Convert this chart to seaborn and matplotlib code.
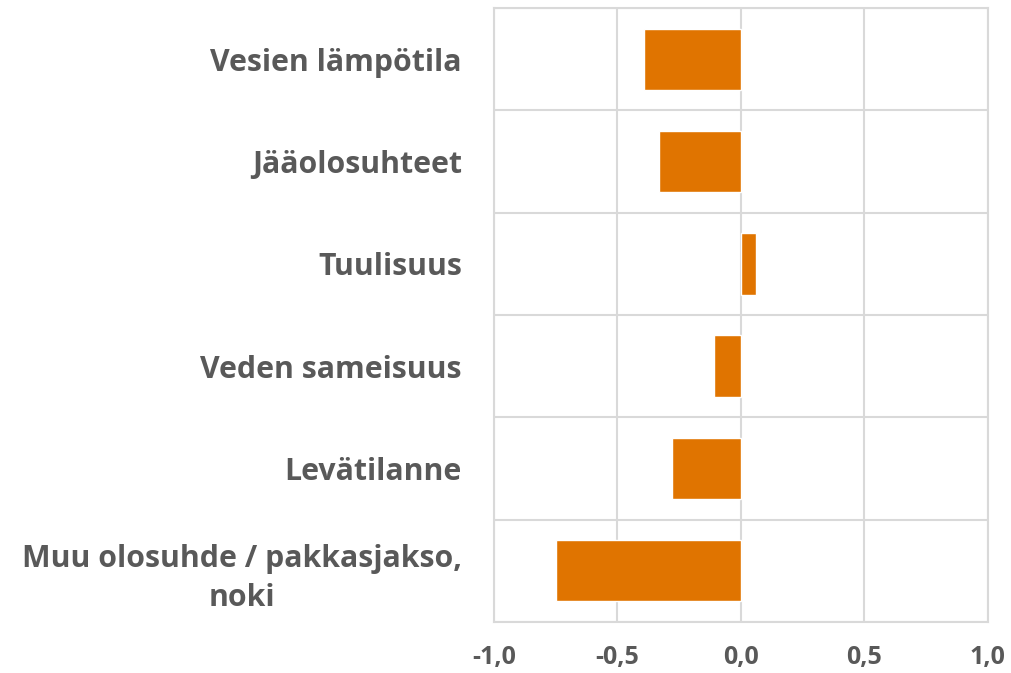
import seaborn as sns
import matplotlib.pyplot as plt
import pandas as pd
import numpy as np

# Data
categories = ['Vesien lämpötila', 'Jääolosuhteet', 'Tuulisuus', 'Veden sameisuus',
              'Levätilanne', 'Muu olosuhde / pakkasjakso,\nnoki']
values = [-0.39, -0.33, 0.061, -0.108, -0.278, -0.75]
xticks = [-1.0, -0.5, 0.0, 0.5, 1.0]
xtick_labels = ['-1,0', '-0,5', '0,0', '0,5', '1,0']

df = pd.DataFrame({'Kategoria': categories, 'Arvo': values})

sns.set_style('white')
plt.rcParams['font.family'] = ['Open Sans', 'DejaVu Sans']

grid_color = '#d9d9d9'
text_color = '#595959'

fig = plt.figure(figsize=(10.12, 6.73), dpi=100)
ax = fig.add_axes([0.488, 0.076, 0.488, 0.912])

sns.barplot(data=df, x='Arvo', y='Kategoria', orient='h', color='#e07400',
            saturation=1, width=0.6, ax=ax, zorder=3)

ax.set_xlim(-1, 1)
ax.set_ylim(len(categories) - 0.5, -0.5)
ax.set_xticks(xticks)
ax.set_xticklabels(xtick_labels, fontsize=18, fontweight='bold', color=text_color)
ax.set_yticks(range(len(categories)))
ax.set_yticklabels(categories, fontsize=21.8, fontweight='bold', color=text_color,
                   multialignment='center', linespacing=1.38)
ax.set_yticks(np.arange(-0.5, len(categories), 1), minor=True)

ax.grid(axis='x', which='major', color=grid_color, linewidth=1.5, zorder=0)
ax.grid(axis='y', which='minor', color=grid_color, linewidth=1.5, zorder=0)
ax.grid(axis='y', which='major', visible=False)
for s in ax.spines.values():
    s.set_color(grid_color)
    s.set_linewidth(1.5)

ax.tick_params(axis='both', which='both', length=0)
ax.tick_params(axis='x', pad=17)
ax.tick_params(axis='y', pad=23)

ax.set_xlabel('')
ax.set_ylabel('')

plt.savefig('out.png', dpi=100)
